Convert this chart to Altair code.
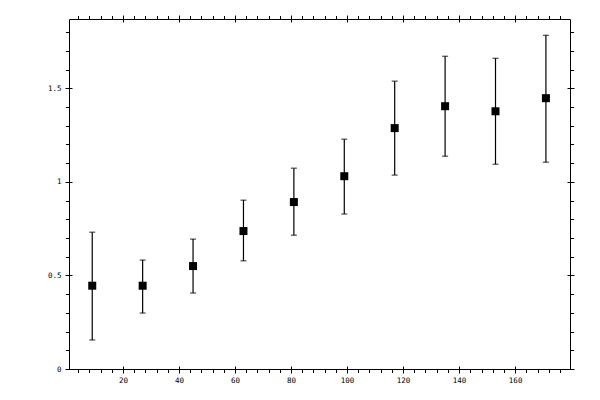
import pandas as pd
import altair as alt

# values
x_vals = [9, 27, 45, 63, 81, 99, 117, 135, 153, 171]
y_vals = [0.445, 0.445, 0.55, 0.737, 0.892, 1.03, 1.287, 1.404, 1.377, 1.447]
y_low = [0.155, 0.299, 0.406, 0.578, 0.715, 0.828, 1.036, 1.137, 1.094, 1.105]
y_high = [0.731, 0.582, 0.694, 0.902, 1.073, 1.228, 1.538, 1.671, 1.660, 1.783]

x_major = [20, 40, 60, 80, 100, 120, 140, 160]
x_minor = list(range(4, 180, 4))
y_major = [0, 0.5, 1, 1.5]
y_minor = [round(i * 0.1, 1) for i in range(0, 19)]

df = pd.DataFrame({'x': x_vals, 'y': y_vals, 'lo': y_low, 'hi': y_high})

W, H = 501, 350
xscale = alt.Scale(domain=[0.7, 179.6], nice=False, zero=False)
yscale = alt.Scale(domain=[0, 1.87], nice=False, zero=False)
FONT = 'DejaVu Sans Mono'


def ax(orient, values, size, labels=False, offset=0):
    kw = dict(orient=orient, values=values, tickSize=size, labels=labels,
              domain=False, grid=False, title=None, ticks=True,
              tickColor='black', tickWidth=1, offset=offset)
    if labels:
        kw.update(labelFont=FONT, labelFontSize=7.5, labelColor='black',
                  labelPadding=3 if orient in ('bottom', 'top') else 4,
                  labelFlush=False, labelOverlap=False, format='~f')
    return alt.Axis(**kw)


def axis_layer(xa, ya):
    return alt.Chart(df).mark_point(opacity=0).encode(
        x=alt.X('x:Q', scale=xscale, axis=xa),
        y=alt.Y('y:Q', scale=yscale, axis=ya),
    )


# frame ticks: major ticks cross the frame, minor ticks point outward
axes = [
    axis_layer(ax('bottom', x_major, 4, labels=True), ax('left', y_major, 4, labels=True)),
    axis_layer(ax('bottom', x_minor, 3.5), ax('left', y_minor, 3.5)),
    axis_layer(ax('top', x_major, 3, offset=-H), ax('right', y_major, 3, offset=-W)),
    axis_layer(ax('top', x_major, 4), ax('right', y_major, 4)),
    axis_layer(ax('top', x_minor, 3.5), ax('right', y_minor, 3.5)),
    axis_layer(ax('bottom', x_major, 3, offset=-H), ax('left', y_major, 3, offset=-W)),
]

bars = alt.Chart(df).mark_errorbar(
    ticks={'size': 6, 'thickness': 1.2, 'color': 'black'},
    rule={'color': 'black', 'strokeWidth': 1.2},
    color='black', thickness=1.2,
).encode(
    x=alt.X('x:Q', scale=xscale, axis=None),
    y=alt.Y('lo:Q', scale=yscale, axis=None),
    y2='hi:Q',
)

points = alt.Chart(df).mark_square(size=64, color='black', opacity=1).encode(
    x=alt.X('x:Q', scale=xscale, axis=None),
    y=alt.Y('y:Q', scale=yscale, axis=None),
)

chart = alt.layer(*axes, bars, points).resolve_axis(
    x='independent', y='independent'
).properties(
    width=W, height=H,
    autosize=alt.AutoSizeParams(type='none'),
    padding={'left': 61, 'top': 11, 'right': 22, 'bottom': 22},
).configure_view(stroke='black', strokeWidth=1)

chart.save("out.html", embed_options={"renderer": "svg", "actions": False})
